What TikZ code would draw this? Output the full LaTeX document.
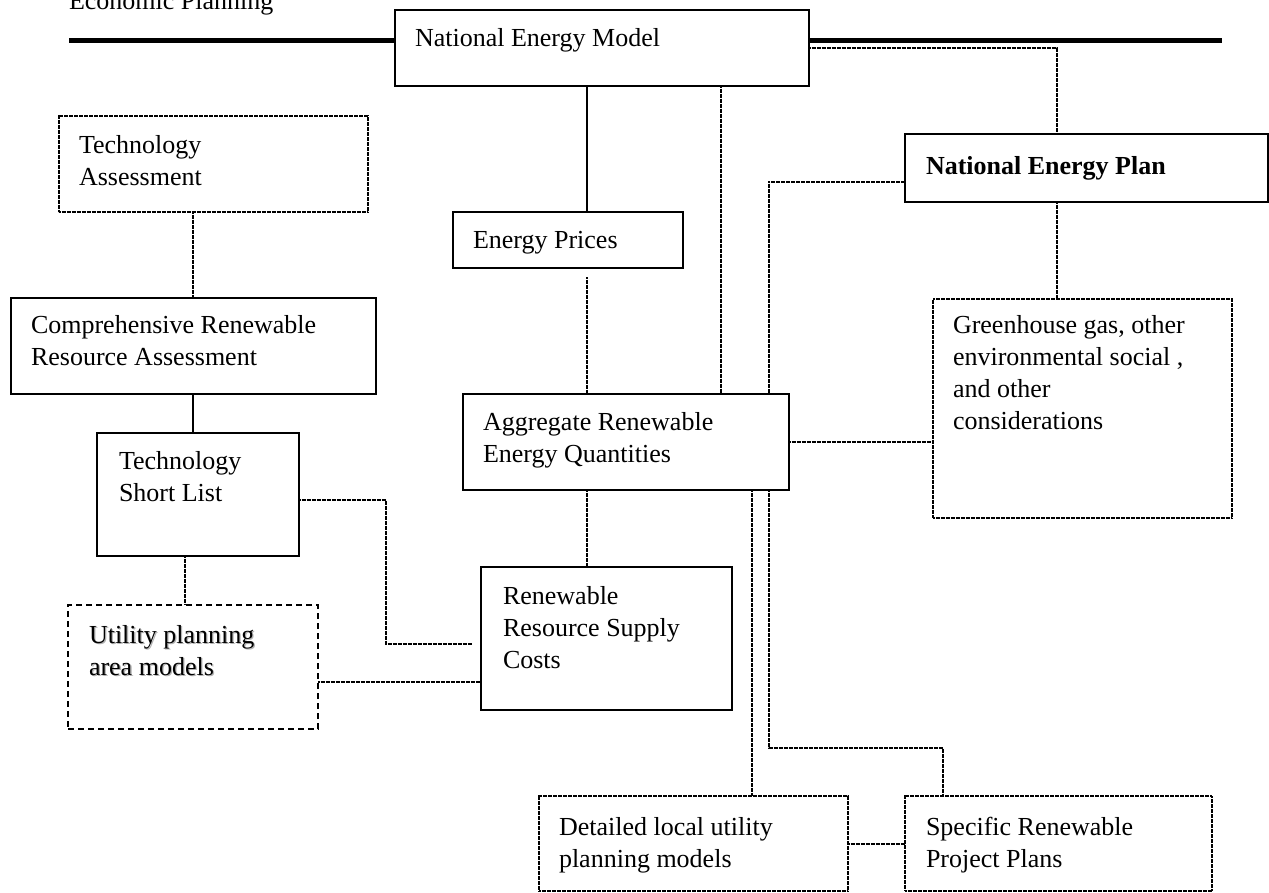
\documentclass[tikz,border=0pt]{standalone}
\usepackage{fontspec}
\setmainfont{Liberation Serif}
% multi-line left-aligned block whose baseline is that of its first line
\newcommand\ml[1]{\vtop{\let\\\cr\halign{##\hfil\cr#1\crcr}}}
% text with a soft grey drop shadow
\newcommand\shadowed[1]{\rlap{\kern1.3pt\raise-1.3pt\hbox{\color{black!30}#1}}#1}
\begin{document}
\begin{tikzpicture}[x=1pt,y=-1pt,
  every node/.style={inner sep=0pt, outer sep=0pt},
  box/.style={draw, line width=1.4pt, rectangle, anchor=north west},
  dotbox/.style={draw, line width=1.2pt, dash pattern=on 2pt off 0.5pt, rectangle, anchor=north west},
  dashbox/.style={draw, line width=1.4pt, dash pattern=on 6pt off 4pt, rectangle, anchor=north west},
  txt/.style={anchor=base west, font=\fontsize{26}{32}\selectfont},
  link/.style={line width=1.4pt},
  dotlink/.style={line width=1.2pt, dash pattern=on 2pt off 0.5pt},
  rule/.style={line width=5pt}]
\useasboundingbox (0,0) rectangle (1269,892);

% header
\node[txt] (hdr) at (69,9) {Economic Planning};

% boxes
\node[box, minimum width=414pt, minimum height=76pt] (nem) at (395,10) {};
\node[box, minimum width=363pt, minimum height=68pt] (nep) at (905,134) {};
\node[dotbox, minimum width=309pt, minimum height=96pt] (ta) at (59,116) {};
\node[box, minimum width=365pt, minimum height=96pt] (crra) at (11,298) {};
\node[box, minimum width=230pt, minimum height=56pt] (ep) at (453,212) {};
\node[box, minimum width=326pt, minimum height=96pt] (agg) at (463,394) {};
\node[dotbox, minimum width=299pt, minimum height=219pt] (ghg) at (933,299) {};
\node[box, minimum width=202pt, minimum height=123pt] (tsl) at (97,433) {};
\node[dashbox, minimum width=250pt, minimum height=124pt] (upam) at (68,605) {};
\node[box, minimum width=251pt, minimum height=143pt] (rrsc) at (481,567) {};
\node[dotbox, minimum width=309pt, minimum height=95pt] (det) at (539,796) {};
\node[dotbox, minimum width=307pt, minimum height=95pt] (spec) at (905,796) {};

% box texts
\node[txt] (nemt) at ([shift={(20,36)}]nem.north west) {National Energy Model};
\node[txt] (nept) at ([shift={(21,40)}]nep.north west) {\bfseries National Energy Plan};
\node[txt] (tat) at ([shift={(20,37)}]ta.north west) {\ml{Technology\\Assessment}};
\node[txt] (crrat) at ([shift={(20,35)}]crra.north west) {\ml{Comprehensive Renewable\\Resource Assessment}};
\node[txt] (ept) at ([shift={(20,36)}]ep.north west) {Energy Prices};
\node[txt] (aggt) at ([shift={(20,36)}]agg.north west) {\ml{Aggregate Renewable\\Energy Quantities}};
\node[txt] (ghgt) at ([shift={(20,34)}]ghg.north west) {\ml{Greenhouse gas, other\\environmental social ,\\and other\\considerations}};
\node[txt] (tslt) at ([shift={(22,36)}]tsl.north west) {\ml{Technology\\Short List}};
\node[txt] (upamt) at ([shift={(21,38)}]upam.north west) {\ml{\shadowed{Utility planning}\\\shadowed{area models}}};
\node[txt] (rrsct) at ([shift={(22,37)}]rrsc.north west) {\ml{Renewable\\Resource Supply\\Costs}};
\node[txt] (dett) at ([shift={(20,39)}]det.north west) {\ml{Detailed local utility\\planning models}};
\node[txt] (spect) at ([shift={(21,39)}]spec.north west) {\ml{Specific Renewable\\Project Plans}};

% routing columns and rows
\coordinate (c185) at (185,0);
\coordinate (c193) at (193,0);
\coordinate (c386) at (386,0);
\coordinate (c587) at (587,0);
\coordinate (c721) at (721,0);
\coordinate (c752) at (752,0);
\coordinate (c769) at (769,0);
\coordinate (c943) at (943,0);
\coordinate (c1057) at (1057,0);
\coordinate (r40a) at (69,40);
\coordinate (r40b) at (1222,40);
\coordinate (r48) at (0,48);
\coordinate (r182) at (0,182);
\coordinate (r500) at (0,500);
\coordinate (r644) at (0,644);
\coordinate (r682) at (0,682);
\coordinate (r748) at (0,748);
\coordinate (r844) at (0,844);

% heavy rule either side of the model box
\draw[rule] (r40a) -- (r40a -| nem.west);
\draw[rule] (nem.east |- r40b) -- (r40b);

% connectors
\draw[link] (nem.south -| c587) -- (ep.north -| c587);
\draw[dotlink] (nem.south -| c721) -- (agg.north -| c721);
\draw[dotlink] (nem.east |- r48) -| (nep.north -| c1057);
\draw[dotlink] (nep.south -| c1057) -- (ghg.north -| c1057);
\draw[dotlink] (nep.west |- r182) -| (agg.north -| c769);
\draw[dotlink, shorten <=9pt] (ep.south -| c587) -- (agg.north -| c587);
\draw[dotlink] (agg.east) -- (ghg.west |- agg.east);
\draw[dotlink] (agg.south -| c587) -- (rrsc.north -| c587);
\draw[dotlink] (agg.south -| c752) -- (det.north -| c752);
\draw[dotlink] (agg.south -| c769) -- (c769 |- r748) -| (spec.north -| c943);
\draw[dotlink] (det.east |- r844) -- (spec.west |- r844);
\draw[dotlink] (ta.south -| c193) -- (crra.north -| c193);
\draw[link] (crra.south -| c193) -- (tsl.north -| c193);
\draw[dotlink] (tsl.south -| c185) -- (upam.north -| c185);
\draw[dotlink, shorten >=9pt] (tsl.east |- r500) -- (c386 |- r500) |- (rrsc.west |- r644);
\draw[dotlink] (upam.east |- r682) -- (rrsc.west |- r682);
\end{tikzpicture}
\end{document}
